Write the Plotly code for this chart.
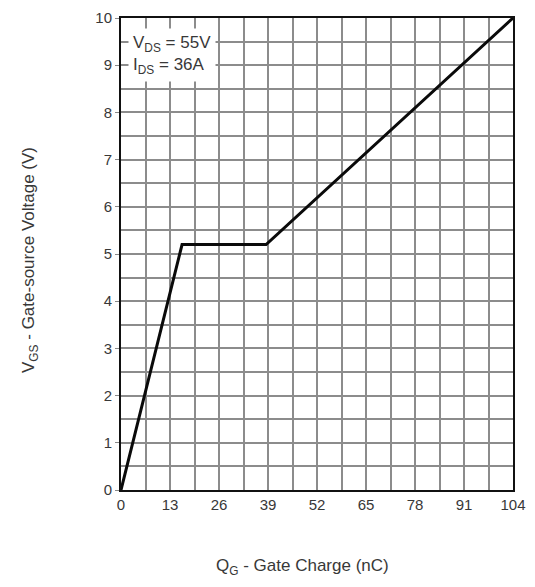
import plotly.graph_objects as go

# Data
gate_charge_nc = [0, 16.2, 38.5, 104]
gate_voltage_v = [0, 5.2, 5.2, 10]

x_tick_vals = [0, 13, 26, 39, 52, 65, 78, 91, 104]
x_tick_text = ["0", "13", "26", "39", "52", "65", "78", "91", "104"]
y_tick_vals = [0, 1, 2, 3, 4, 5, 6, 7, 8, 9, 10]
y_tick_text = [str(v) for v in y_tick_vals]

FONT = "Liberation Sans, Arial, sans-serif"
GRID = "#8c8c8c"
TXT = "#383838"

OFF = 8  # page body margin
W, H = 535 - OFF, 587 - OFF
L, R, T, B = 121 - OFF, 22, 18 - OFF, 97
PW, PH = W - L - R, H - T - B


def px_x(x):
    return (x - OFF - L) / PW


def px_y(y):
    return (H - B - (y - OFF)) / PH


fig = go.Figure()
fig.add_trace(go.Scatter(
    x=gate_charge_nc, y=gate_voltage_v, mode="lines",
    line=dict(color="#0a0a0a", width=3), showlegend=False, hoverinfo="skip"))

fig.update_xaxes(
    range=[0, 104], tickvals=x_tick_vals, ticktext=x_tick_text,
    showgrid=True, gridcolor=GRID, gridwidth=1.5,
    minor=dict(dtick=6.5, tick0=0, showgrid=True, gridcolor=GRID, gridwidth=1.5),
    showline=True, linecolor="#111", linewidth=2, mirror=True,
    ticks="", zeroline=False, automargin=False,
    tickfont=dict(family=FONT, size=15, color=TXT))
fig.update_yaxes(
    range=[0, 10], tickvals=y_tick_vals, ticktext=y_tick_text,
    showgrid=True, gridcolor=GRID, gridwidth=1.5,
    minor=dict(dtick=0.5, tick0=0, showgrid=True, gridcolor=GRID, gridwidth=1.5),
    showline=True, linecolor="#111", linewidth=2, mirror=True,
    ticks="outside", ticklen=4, tickcolor="#888", zeroline=False, automargin=False,
    tickfont=dict(family=FONT, size=15, color=TXT))

# axis titles
fig.add_annotation(
    xref="paper", yref="paper", x=px_x(302), y=px_y(567),
    xanchor="center", yanchor="middle", showarrow=False,
    text="Q<sub>G</sub> - Gate Charge (nC)",
    font=dict(family=FONT, size=17, color=TXT))
fig.add_annotation(
    xref="paper", yref="paper", x=px_x(30), y=px_y(260),
    xanchor="center", yanchor="middle", showarrow=False, textangle=-90,
    text="V<sub>GS</sub> - Gate-source Voltage (V)",
    font=dict(family=FONT, size=17, color=TXT))

fig.add_annotation(
    xref="paper", yref="paper", x=px_x(128), y=px_y(28), xanchor="left", yanchor="top",
    text="V<sub>DS</sub> = 55V<br>I<sub>DS</sub> = 36A", showarrow=False, align="left",
    bgcolor="white", borderpad=4,
    font=dict(family=FONT, size=17, color=TXT))

fig.update_layout(
    width=W, height=H,
    margin=dict(l=L, r=R, t=T, b=B),
    paper_bgcolor="white", plot_bgcolor="white")

fig.write_html("out.html")
